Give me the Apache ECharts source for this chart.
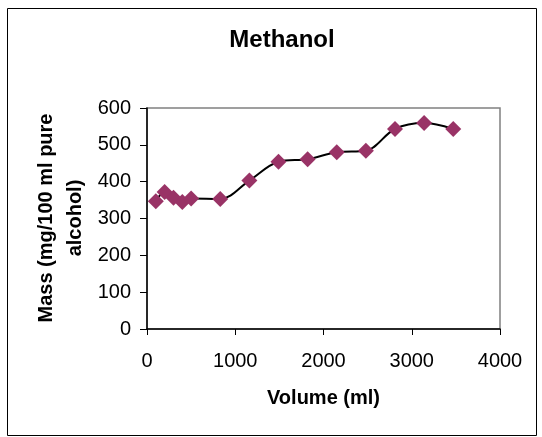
<!DOCTYPE html>
<html><head><meta charset="utf-8">
<script src="https://cdn.jsdelivr.net/npm/echarts@6/dist/echarts.min.js"></script>
<style>html,body{margin:0;padding:0;background:#fff}#c{width:542px;height:437px}</style>
</head><body><div id="c"></div>
<script>
const volumes = [100, 200, 300, 400, 500, 830, 1160, 1490, 1820, 2150, 2480, 2810, 3140, 3470];
const masses  = [347, 372, 356, 345, 354, 353, 403, 454, 461, 480, 484, 543, 559, 543];
const xTicks = [0, 1000, 2000, 3000, 4000];
const yTicks = [0, 100, 200, 300, 400, 500, 600];

const chart = echarts.init(document.getElementById('c'), null, {renderer: 'canvas'});
const font = 'Arial, "Liberation Sans", sans-serif';
chart.setOption({
  animation: false,
  title: {text: 'Methanol', left: 277, top: 23, textAlign: 'center',
    textStyle: {fontFamily: font, fontWeight: 'bold', fontSize: 24, color: '#000'}},
  graphic: [
    {type: 'rect', shape: {x: 7.5, y: 8.5, width: 529, height: 427}, style: {fill: null, stroke: '#000', lineWidth: 1}, z: -1},
    {type: 'text', rotation: Math.PI/2, x: 61, y: 218, style: {text: 'Mass (mg/100 ml pure\nalcohol)', font: 'bold 20px ' + font, fill: '#000', align: 'center', verticalAlign: 'middle', lineHeight: 29}}
  ],
  grid: {left: 147, right: 42, top: 108, bottom: 108, show: true, borderColor: '#808080', borderWidth: 1.5},
  xAxis: {type: 'value', min: xTicks[0], max: xTicks[xTicks.length-1], interval: 1000,
    name: 'Volume (ml)', nameLocation: 'middle', nameGap: 59,
    nameTextStyle: {fontFamily: font, fontWeight: 'bold', fontSize: 20, color: '#000'},
    axisLine: {lineStyle: {color: '#000', width: 1.5}},
    axisTick: {show: true, inside: false, length: 6, lineStyle: {color: '#000'}},
    axisLabel: {fontFamily: font, fontSize: 20, color: '#000', margin: 22, formatter: v => String(v)},
    splitLine: {show: false}},
  yAxis: {type: 'value', min: yTicks[0], max: yTicks[yTicks.length-1], interval: 100,
    axisLine: {show: true, lineStyle: {color: '#000', width: 1.5}},
    axisTick: {show: true, inside: false, length: 7, lineStyle: {color: '#000'}},
    axisLabel: {fontFamily: font, fontSize: 20, color: '#000', margin: 16, formatter: v => String(v)},
    splitLine: {show: false}},
  series: [{type: 'line', data: volumes.map((v, i) => [v, masses[i]]), smooth: 0.35,
    lineStyle: {color: '#000', width: 2},
    symbol: 'diamond', symbolSize: 16,
    itemStyle: {color: '#993366'}}]
});
</script></body></html>
